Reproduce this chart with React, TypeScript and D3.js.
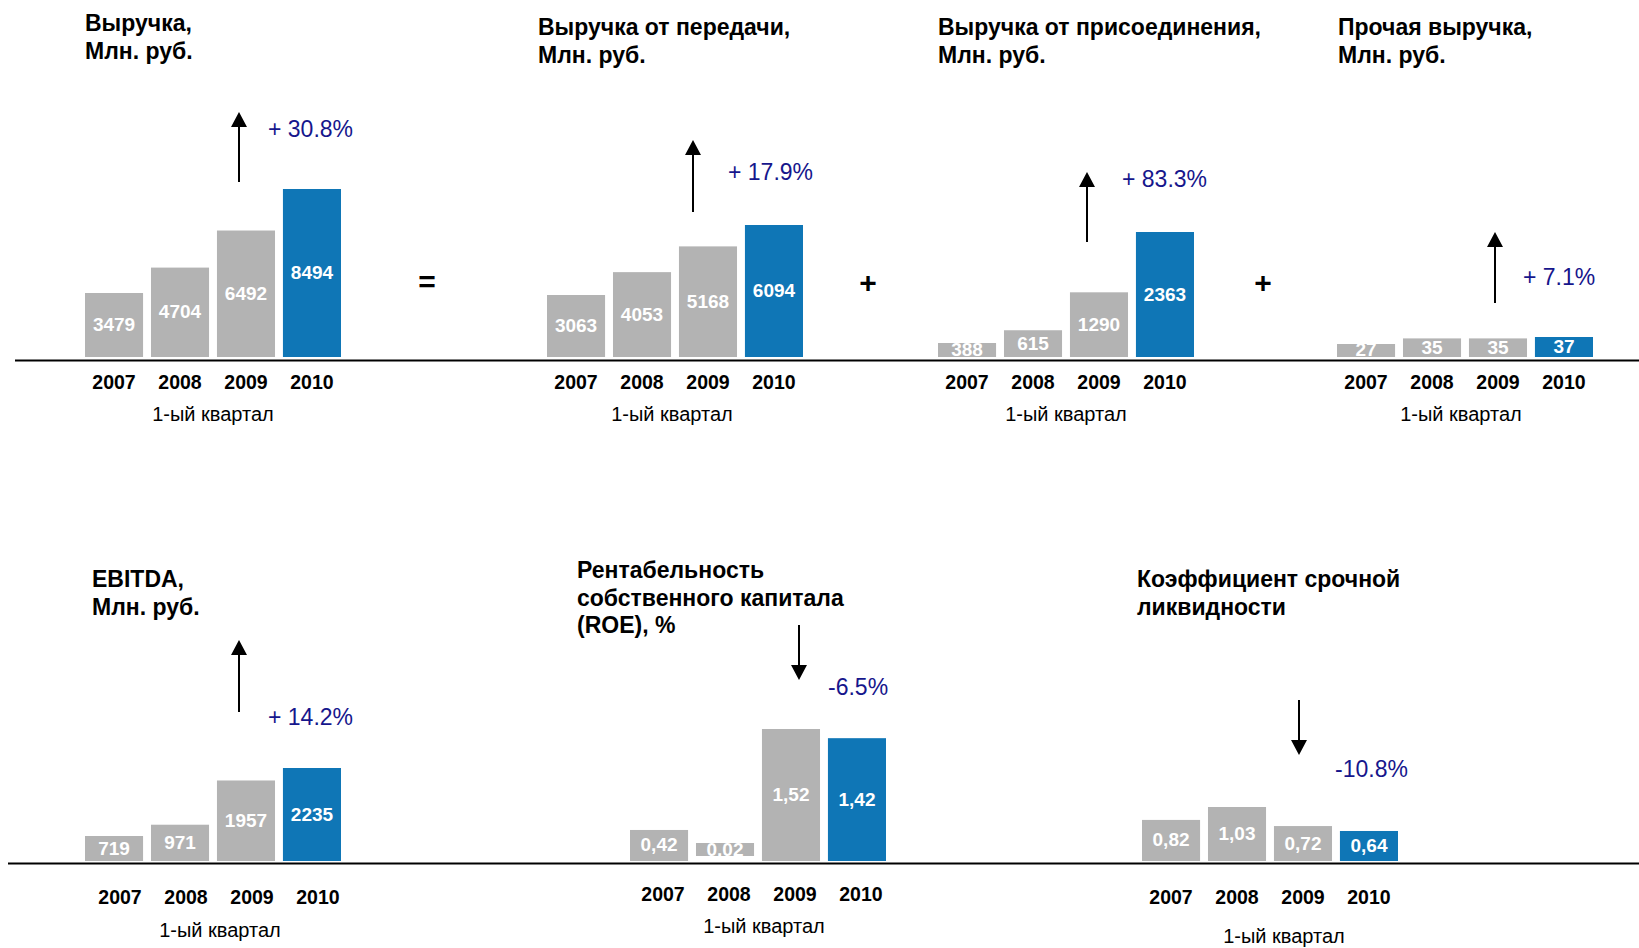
import { scaleBand, scaleLinear } from "d3";

const years = ["2007", "2008", "2009", "2010"];
const periodLabel = "1-ый квартал";

const revenue = [3479, 4704, 6492, 8494];
const transmissionRevenue = [3063, 4053, 5168, 6094];
const connectionRevenue = [388, 615, 1290, 2363];
const otherRevenue = [27, 35, 35, 37];
const ebitda = [719, 971, 1957, 2235];
const roe = [0.42, 0.02, 1.52, 1.42];
const quickRatio = [0.82, 1.03, 0.72, 0.64];

const revenueLabels = ["3479", "4704", "6492", "8494"];
const transmissionLabels = ["3063", "4053", "5168", "6094"];
const connectionLabels = ["388", "615", "1290", "2363"];
const otherLabels = ["27", "35", "35", "37"];
const ebitdaLabels = ["719", "971", "1957", "2235"];
const roeLabels = ["0,42", "0,02", "1,52", "1,42"];
const quickRatioLabels = ["0,82", "1,03", "0,72", "0,64"];

const titles = [
  ["Выручка,", "Млн. руб."],
  ["Выручка от передачи,", "Млн. руб."],
  ["Выручка от присоединения,", "Млн. руб."],
  ["Прочая выручка,", "Млн. руб."],
  ["EBITDA,", "Млн. руб."],
  ["Рентабельность", "собственного капитала", "(ROE), %"],
  ["Коэффициент срочной", "ликвидности"]
];
const changes = ["+ 30.8%", "+ 17.9%", "+ 83.3%", "+ 7.1%", "+ 14.2%", "-6.5%", "-10.8%"];

const width = 1639;
const height = 948;
const font = "'Liberation Sans', Arial, sans-serif";
const grey = "#b3b3b3";
const blue = "#0f76b6";
const navy = "#16168c";

interface PanelLayout {
  values: number[];
  labels: string[];
  title: string[];
  change: string;
  x0: number;
  base: number;
  // the source bars start below the visible axis, so the scale starts above zero
  domainMin: number;
  maxPx: number;
  titleX: number;
  titleY: number;
  arrowX: number;
  arrowFrom: number;
  arrowTo: number;
  pctX: number;
  pctY: number;
  yearY: number;
  yearDx: number;
  periodY: number;
  periodX: number;
}

const panels: PanelLayout[] = [
  { values: revenue, labels: revenueLabels, title: titles[0], change: changes[0], x0: 85, base: 357, domainMin: 393, maxPx: 168, titleX: 85, titleY: 31, arrowX: 239, arrowFrom: 182, arrowTo: 112, pctX: 268, pctY: 137, yearY: 389, yearDx: 0, periodY: 421, periodX: 213 },
  { values: transmissionRevenue, labels: transmissionLabels, title: titles[1], change: changes[1], x0: 547, base: 357, domainMin: 379, maxPx: 132, titleX: 538, titleY: 35, arrowX: 693, arrowFrom: 212, arrowTo: 140, pctX: 728, pctY: 180, yearY: 389, yearDx: 0, periodY: 421, periodX: 672 },
  { values: connectionRevenue, labels: connectionLabels, title: titles[2], change: changes[2], x0: 938, base: 357, domainMin: 139, maxPx: 125, titleX: 938, titleY: 35, arrowX: 1087, arrowFrom: 242, arrowTo: 172, pctX: 1122, pctY: 187, yearY: 389, yearDx: 0, periodY: 421, periodX: 1066 },
  { values: otherRevenue, labels: otherLabels, title: titles[3], change: changes[3], x0: 1337, base: 357, domainMin: 8.4, maxPx: 20, titleX: 1338, titleY: 35, arrowX: 1495, arrowFrom: 303, arrowTo: 232, pctX: 1523, pctY: 285, yearY: 389, yearDx: 0, periodY: 421, periodX: 1461 },
  { values: ebitda, labels: ebitdaLabels, title: titles[4], change: changes[4], x0: 85, base: 861, domainMin: 162, maxPx: 93, titleX: 92, titleY: 587, arrowX: 239, arrowFrom: 712, arrowTo: 640, pctX: 268, pctY: 725, yearY: 904, yearDx: 6, periodY: 937, periodX: 220 },
  { values: roe, labels: roeLabels, title: titles[5], change: changes[5], x0: 630, base: 861, domainMin: 0.082, maxPx: 132, titleX: 577, titleY: 578, arrowX: 799, arrowFrom: 625, arrowTo: 680, pctX: 828, pctY: 695, yearY: 901, yearDx: 4, periodY: 933, periodX: 764 },
  { values: quickRatio, labels: quickRatioLabels, title: titles[6], change: changes[6], x0: 1142, base: 861, domainMin: 0.152, maxPx: 54, titleX: 1137, titleY: 587, arrowX: 1299, arrowFrom: 700, arrowTo: 755, pctX: 1335, pctY: 777, yearY: 904, yearDx: 0, periodY: 943, periodX: 1284 }
];

function Arrow({ x, from, to }: { x: number; from: number; to: number }) {
  const dir = to < from ? -1 : 1;
  const headLen = 15;
  const tipBase = to - dir * headLen;
  return (
    <g>
      <line x1={x} x2={x} y1={from} y2={tipBase} stroke="#000" strokeWidth={2} />
      <path d={`M${x - 8},${tipBase} L${x + 8},${tipBase} L${x},${to} Z`} fill="#000" />
    </g>
  );
}

function Panel({ p }: { p: PanelLayout }) {
  const x = scaleBand<string>().domain(years).range([p.x0, p.x0 + 256]).paddingInner(0.12);
  const maxV = Math.max(...p.values);
  const y = scaleLinear().domain([p.domainMin, maxV]).range([p.base, p.base - p.maxPx]).clamp(true);
  const bw = x.bandwidth();
  return (
    <g>
      <text fontFamily={font} fontWeight="bold" fontSize={23} fill="#000">
        {p.title.map((t, i) => (
          <tspan key={t} x={p.titleX} y={p.titleY + i * 27.5}>
            {t}
          </tspan>
        ))}
      </text>
      {p.values.map((v, i) => {
        const xi = x(years[i]) ?? 0;
        let top = y(v);
        let bottom = p.base;
        // tiny values are shown as a small raised stub
        if (bottom - top < 4) {
          bottom = p.base - 5;
          top = bottom - 13;
        }
        const fill = i === years.length - 1 ? blue : grey;
        return (
          <g key={years[i]}>
            <rect x={xi} y={top} width={bw} height={bottom - top} fill={fill} />
            <text
              x={xi + bw / 2}
              y={(top + bottom) / 2 + 6}
              textAnchor="middle"
              fontFamily={font}
              fontWeight="bold"
              fontSize={19}
              fill="#fff"
            >
              {p.labels[i]}
            </text>
            <text
              x={xi + bw / 2 + p.yearDx}
              y={p.yearY}
              textAnchor="middle"
              fontFamily={font}
              fontWeight="bold"
              fontSize={19.5}
              fill="#000"
            >
              {years[i]}
            </text>
          </g>
        );
      })}
      <text x={p.periodX} y={p.periodY} textAnchor="middle" fontFamily={font} fontSize={20} fill="#000">
        {periodLabel}
      </text>
      <Arrow x={p.arrowX} from={p.arrowFrom} to={p.arrowTo} />
      <text x={p.pctX} y={p.pctY} fontFamily={font} fontSize={23} fill={navy}>
        {p.change}
      </text>
    </g>
  );
}

export default function App() {
  return (
    <svg
      width={width}
      height={height}
      viewBox={`0 0 ${width} ${height}`}
      style={{ position: "absolute", left: 0, top: 0, background: "#fff" }}
    >
      <rect width={width} height={height} fill="#fff" />
      <line x1={15} x2={width} y1={360.5} y2={360.5} stroke="#000" strokeWidth={2} />
      <line x1={8} x2={width} y1={863.5} y2={863.5} stroke="#000" strokeWidth={2} />
      {panels.map((p) => (
        <Panel key={`${p.x0}-${p.base}`} p={p} />
      ))}
      <text x={427} y={292} textAnchor="middle" fontFamily={font} fontWeight="bold" fontSize={30} fill="#000">
        =
      </text>
      <text x={868} y={293} textAnchor="middle" fontFamily={font} fontWeight="bold" fontSize={30} fill="#000">
        +
      </text>
      <text x={1263} y={293} textAnchor="middle" fontFamily={font} fontWeight="bold" fontSize={30} fill="#000">
        +
      </text>
    </svg>
  );
}
